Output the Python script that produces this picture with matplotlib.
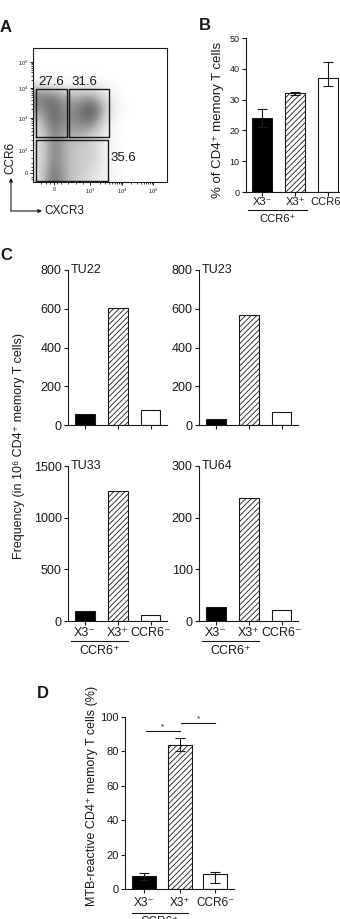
import numpy as np
import matplotlib
matplotlib.use("Agg")
import matplotlib.pyplot as plt
from matplotlib.transforms import offset_copy

plt.rcParams["font.family"] = ["Liberation Sans", "DejaVu Sans"]
plt.rcParams["hatch.linewidth"] = 0.6
plt.rcParams["hatch.color"] = "black"

# %% data
groups = ["X3⁻", "X3⁺", "CCR6⁻"]
group_under = "CCR6⁺"
bar_fill = ["black", "white", "white"]
bar_hatch = [None, "//////", None]

# panel A: flow dot plot, density (rows bottom -> top)
flow_dens = np.array([
    [2, 7, 4, 3, 2, 1, 0, 0, 0, 0],
    [2, 6, 4, 3, 3, 1, 0, 0, 0, 0],
    [2, 6, 4, 3, 3, 1, 0, 0, 0, 0],
    [2, 6, 4, 4, 3, 1, 0, 0, 0, 0],
    [3, 7, 5, 6, 6, 2, 0, 0, 0, 0],
    [5, 7, 5, 6, 8, 3, 0.5, 0, 0, 0],
    [6, 6, 4, 4, 4, 2, 0, 0, 0, 0],
    [1, 0.5, 0, 0.5, 0.5, 0, 0, 0, 0, 0],
    [0, 0, 0, 0, 0, 0, 0, 0, 0, 0],
    [0, 0, 0, 0, 0, 0, 0, 0, 0, 0],
])
gate_x0 = [0.22, 2.69, 0.22]
gate_x1 = [2.54, 5.67, 5.60]
gate_y0 = [3.36, 3.36, 0.07]
gate_y1 = [6.94, 6.94, 3.13]
gate_pct = ["27.6", "31.6", "35.6"]
flow_yticks = [0.67, 2.39, 4.78, 7.01, 8.96]
flow_ylabels = ["0", "10$^2$", "10$^3$", "10$^4$", "10$^5$"]
flow_xticks = [1.57, 4.25, 6.64, 8.96]
flow_xlabels = ["0", "10$^3$", "10$^4$", "10$^5$"]

# panel B
b_mean = [24, 32, 37]
b_err_lo = [3, 0.5, 2.6]
b_err_hi = [3, 0.5, 5.2]

# panel C
donors = ["TU22", "TU23", "TU33", "TU64"]
tu22 = [58, 603, 80]
tu23 = [32, 570, 66]
tu33 = [98, 1255, 60]
tu64 = [27, 238, 21]
c_ymax = [800, 800, 1500, 300]
c_ystep = [200, 200, 500, 100]

# panel D
d_mean = [7.5, 84, 8.5]
d_err_lo = [2, 4, 5]
d_err_hi = [2, 4, 1.5]
d_sig = [(0, 1, 92), (1, 2, 96.5)]

# %% figure in pixel layout
W, H = 340, 919
fig = plt.figure(figsize=(W / 100, H / 100), dpi=100)
INK = "#1a1a1a"


def px_axes(x0, y0, x1, y1):
    return fig.add_axes([x0 / W, 1 - y1 / H, (x1 - x0) / W, (y1 - y0) / H])


def style(ax, fs):
    for s in ["top", "right"]:
        ax.spines[s].set_visible(False)
    for s in ["left", "bottom"]:
        ax.spines[s].set_linewidth(0.8)
        ax.spines[s].set_color(INK)
    ax.tick_params(direction="out", length=3, width=0.8, pad=1.5,
                   labelsize=fs, colors=INK)


def draw_bars(ax, vals, width, lo=None, hi=None):
    x = np.arange(len(vals))
    bars = ax.bar(x, vals, width=width, color=bar_fill, edgecolor=INK,
                  linewidth=0.8, zorder=2)
    for b, h in zip(bars, bar_hatch):
        if h:
            b.set_hatch(h)
    if lo is not None:
        ax.errorbar(x, vals, yerr=[lo, hi], fmt="none", ecolor=INK,
                    elinewidth=0.8, capsize=3.5, capthick=0.8, zorder=3)
    ax.set_xticks(x)
    ax.set_xticklabels([])


def below(ax, dy):
    return offset_copy(ax.get_xaxis_transform(), fig=fig, y=-dy, units="dots")


def cat_labels(ax, fs, dy_lab, dy_line, dy_grp, line_x):
    for i, g in enumerate(groups):
        ax.text(i, 0, g, transform=below(ax, dy_lab), ha="center",
                va="center", fontsize=fs, color=INK)
    ax.plot(line_x, [0, 0], transform=below(ax, dy_line), color=INK,
            lw=0.8, clip_on=False)
    ax.text(np.mean(line_x), 0, group_under, transform=below(ax, dy_grp),
            ha="center", va="center", fontsize=fs, color=INK)


# %% panel A
ax = px_axes(33, 48, 167, 182)
ax.imshow(flow_dens, extent=(0, 10, 0, 10), origin="lower",
          interpolation="bicubic", cmap="Greys", vmin=0, vmax=10,
          aspect="auto", zorder=1)
for x0, x1, y0, y1 in zip(gate_x0, gate_x1, gate_y0, gate_y1):
    ax.plot([x0, x1, x1, x0, x0], [y0, y0, y1, y1, y0], color=INK, lw=1.0,
            zorder=3)
ax.text(gate_x0[0] + 0.2, gate_y1[0] + 0.05, gate_pct[0], fontsize=9.5,
        va="bottom", ha="left", color=INK)
ax.text(gate_x0[1] + 0.2, gate_y1[1] + 0.05, gate_pct[1], fontsize=9.5,
        va="bottom", ha="left", color=INK)
ax.text(gate_x1[2] + 0.2, (gate_y0[2] + gate_y1[2]) / 2 + 0.2, gate_pct[2],
        fontsize=9.5, va="center", ha="left", color=INK)
ax.set_xlim(0, 10)
ax.set_ylim(0, 10)
for s in ax.spines.values():
    s.set_linewidth(0.8)
    s.set_color(INK)
ax.set_xticks(flow_xticks)
ax.set_xticklabels(flow_xlabels)
ax.set_yticks(flow_yticks)
ax.set_yticklabels(flow_ylabels)
ydec = flow_yticks[1:]
xdec = flow_xticks[1:]
m = np.log10(np.arange(2, 10))
ax.set_yticks([a + (b - a) * v for a, b in zip(ydec[:-1], ydec[1:]) for v in m]
              + [0.2, 0.4, 0.9, 1.1, 1.4, 1.8], minor=True)
ax.set_xticks([a + (b - a) * v for a, b in zip(xdec[:-1], xdec[1:]) for v in m]
              + [0.6, 1.0, 1.3, 1.8, 2.1, 2.6, 3.2, 3.7], minor=True)
ax.tick_params(which="major", direction="out", length=2.5, width=0.7,
               pad=1, labelsize=4, colors=INK)
ax.tick_params(which="minor", direction="out", length=1.5, width=0.5)

# %% panel B
ax = px_axes(246, 38, 340, 192)
style(ax, 6.5)
draw_bars(ax, b_mean, 0.6, b_err_lo, b_err_hi)
ax.set_ylim(0, 50)
ax.set_yticks(range(0, 51, 10))
ax.set_xlim(-0.485, 2.36)
cat_labels(ax, 8, 10, 18, 27, [-0.42, 1.36])

# %% panel C
c_vals = [tu22, tu23, tu33, tu64]
c_boxes = [(68, 270, 167, 425), (199, 270, 298, 425),
           (68, 466, 167, 621), (199, 466, 298, 621)]
for k, (name, vals) in enumerate(zip(donors, c_vals)):
    ax = px_axes(*c_boxes[k])
    style(ax, 9)
    draw_bars(ax, vals, 0.6)
    ax.set_ylim(0, c_ymax[k])
    ax.set_yticks(range(0, c_ymax[k] + 1, c_ystep[k]))
    ax.set_xlim(-0.52, 2.5)
    ax.text(0.03, 1.0, name, transform=ax.transAxes, ha="left", va="center",
            fontsize=9, color=INK)
    if k >= 2:
        cat_labels(ax, 9, 12, 20, 30, [-0.42, 1.3])

# %% panel D
ax = px_axes(125, 717, 234, 889)
style(ax, 8)
draw_bars(ax, d_mean, 0.67, d_err_lo, d_err_hi)
ax.set_ylim(0, 100)
ax.set_yticks(range(0, 101, 20))
ax.set_xlim(-0.53, 2.52)
for i, j, y in d_sig:
    ax.plot([i + 0.05, j], [y, y], color=INK, lw=0.8, clip_on=False)
    ax.text((i + j) / 2 + 0.02, y + 0.5, "*", ha="center", va="bottom",
            fontsize=6, color=INK)
cat_labels(ax, 8.5, 14, 24, 33, [-0.34, 1.23])

# %% overlay: panel letters, axis titles, arrows
ov = fig.add_axes([0, 0, 1, 1])
ov.set_xlim(0, W)
ov.set_ylim(H, 0)
ov.axis("off")
for letter, (lx, ly) in zip("ABCD", [(0, 28), (199, 26), (0, 255), (37, 694)]):
    ov.text(lx, ly, letter, fontsize=12, fontweight="bold", ha="left",
            va="center", color=INK)
ov.text(218, 120, "% of CD4⁺ memory T cells", rotation=90, ha="center",
        va="center", fontsize=9.5, color=INK)
ov.text(19, 446, "Frequency (in 10⁶ CD4⁺ memory T cells)", rotation=90,
        ha="center", va="center", fontsize=9, color=INK)
ov.text(92, 796, "MTB-reactive CD4⁺ memory T cells (%)", rotation=90,
        ha="center", va="center", fontsize=9, color=INK)
arrow = dict(arrowstyle="-|>", lw=0.8, color=INK, mutation_scale=5,
             shrinkA=0, shrinkB=0)
ov.annotate("", xy=(11, 178), xytext=(11, 211), arrowprops=arrow)
ov.annotate("", xy=(42, 211), xytext=(11, 211), arrowprops=arrow)
ov.text(10, 158, "CCR6", rotation=90, ha="center", va="center",
        fontsize=8.5, color=INK)
ov.text(44, 211, "CXCR3", ha="left", va="center", fontsize=8.5, color=INK)

fig.savefig("out.png", dpi=100)
